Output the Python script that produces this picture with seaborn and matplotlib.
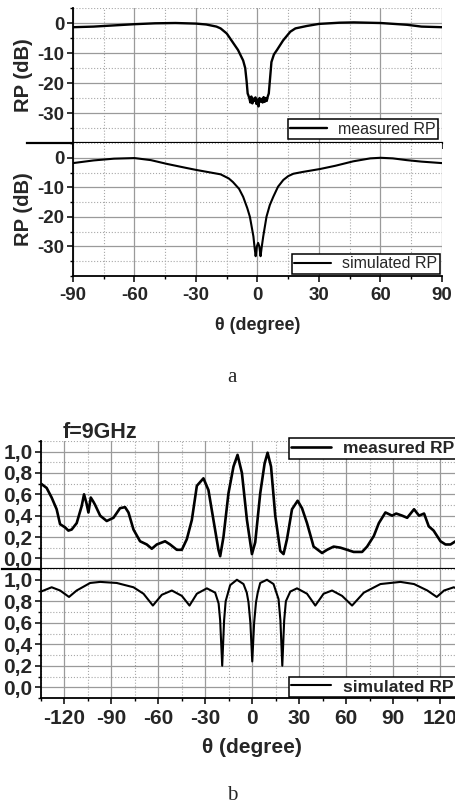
import numpy as np
import pandas as pd
import matplotlib
matplotlib.use('Agg')
import matplotlib.pyplot as plt
from matplotlib.ticker import MultipleLocator, FixedLocator
import seaborn as sns

# ---- data ----
# panel a : return-pattern in dB, theta -90..90
theta_a_meas = [-90, -80, -70, -60, -50, -40, -30, -25, -20, -18, -15, -12, -9.5, -7, -6, -5.3,
                -4.8, -4.5, -4.0, -3.5, -3.0, -2.5, -2.0, -1.5, -1.0, -0.5, 0.0, 0.5, 1.0, 1.5,
                2.0, 2.5, 3.0, 3.5, 4.0, 4.5, 5.0, 5.5, 6.0, 6.8, 8, 9.5, 12.5, 16, 18.5, 24, 30,
                40, 47, 60, 73, 80, 90]
rp_a_meas = [-1.4, -1.2, -0.8, -0.4, -0.1, 0.0, -0.2, -0.5, -1.2, -1.8, -3.5, -6.5, -9.0, -12.5,
             -15.0, -19.5, -23.5, -24.0, -25.0, -26.5, -24.5, -26.8, -25.2, -26.0, -24.8, -27.0,
             -25.5, -27.8, -25.0, -26.2, -25.3, -26.5, -24.7, -26.3, -25.0, -26.0, -24.5, -23.5,
             -19.5, -13.0, -10.5, -9.0, -5.8, -2.9, -1.8, -1.0, -0.3, 0.1, 0.2, 0.0, -0.6, -1.2,
             -1.4]

theta_a_sim = [-90, -80, -70, -60, -52, -44, -35, -30, -22, -18, -14, -12, -9, -7, -5, -3.7,
               -2.0, -1.4, -0.9, -0.3, 0.3, 0.9, 1.5, 2.0, 2.8, 4.4, 6, 7.7, 10, 12.6, 15,
               17.5, 22, 30.5, 38, 46.7, 55, 60, 66, 72.8, 80, 90]
rp_a_sim = [-1.8, -0.9, -0.3, -0.1, -0.8, -2.1, -3.4, -4.1, -5.1, -5.6, -7.0, -8.2, -10.5, -13.2,
            -17.0, -20.0, -26.6, -30.5, -33.3, -30.0, -28.8, -30.0, -33.3, -30.5, -26.6, -19.9,
            -16.0, -13.2, -9.8, -7.5, -6.2, -5.4, -4.8, -3.8, -2.7, -1.2, -0.2, 0.0, -0.2, -0.8,
            -1.3, -1.8]

# panel b : normalised RP at f = 9 GHz, theta -135..135
theta_b_meas = [-135, -131.4, -128.2, -125, -122.8, -119.6, -117.5, -115.4, -112.2, -109, -107.5,
                -106, -104.7, -103.2, -101.5, -100.4, -97.2, -93, -88.7, -84.5, -81.3, -79.1,
                -75.9, -71.7, -67.4, -64.2, -61, -55.7, -52.5, -48.2, -45, -41.8, -38.6, -35.4,
                -31.2, -28, -24.8, -21.6, -20.5, -18.4, -15.2, -12, -9.4, -6.6, -3.4, -0.2, 1.9,
                5.1, 7.9, 9.8, 12, 14.7, 17.9, 20, 22.2, 25.4, 29, 31.8, 35, 39.2, 44.6, 47.8, 52,
                56.3, 60.6, 64.8, 70.2, 73.4, 77.7, 80.9, 85.1, 89.4, 92, 95.8, 99, 103.4, 106.6,
                109.8, 112.8, 115.9, 120.3, 123.5, 126.7, 129.9, 135]
rp_b_meas = [0.70, 0.66, 0.57, 0.46, 0.32, 0.29, 0.26, 0.27, 0.33, 0.49, 0.60,
             0.52, 0.43, 0.57, 0.53, 0.50, 0.40, 0.35, 0.38, 0.47, 0.48, 0.43,
             0.27, 0.16, 0.13, 0.09, 0.13, 0.16, 0.13, 0.08, 0.08, 0.18, 0.36, 0.68,
             0.75, 0.64, 0.36, 0.08, 0.02, 0.20, 0.61, 0.86, 0.97, 0.80, 0.36, 0.04, 0.15,
             0.61, 0.89, 0.99, 0.86, 0.40, 0.07, 0.04, 0.18, 0.46, 0.54, 0.47, 0.33, 0.11, 0.05,
             0.08, 0.11, 0.10, 0.08, 0.06, 0.06, 0.11, 0.21, 0.33, 0.43, 0.40, 0.42, 0.40, 0.38,
             0.46, 0.40, 0.42, 0.30, 0.26, 0.16, 0.13, 0.13, 0.16, 0.18]

theta_b_sim = [-135, -128.2, -122.8, -117.1, -112.2, -103.6, -97.2, -86.6, -75.9, -69.5, -63.5,
               -57.8, -51.4, -45, -40.1, -35.4, -29, -23.7, -21.5, -20.5, -19.2, -18.0, -17.0,
               -14.1, -9.8, -5.6, -3.5, -2.4, -1.2, 0, 1.2, 2.4, 3.5, 5.1, 9.4, 13.6, 16.8, 18,
               19.2, 20.4, 21.5, 24.3, 28.6, 35, 40.3, 45.6, 51, 57.4, 63.8, 71.3, 81.9, 94.7,
               103.4, 111.9, 117.9, 122.6, 128.8, 135]
rp_b_sim = [0.89, 0.93, 0.90, 0.84, 0.90, 0.97, 0.98, 0.97, 0.93, 0.87, 0.76,
            0.86, 0.90, 0.85, 0.76, 0.87, 0.92, 0.88, 0.78, 0.62, 0.20, 0.62, 0.80,
            0.95, 1.00, 0.96, 0.88, 0.79, 0.60, 0.24, 0.60, 0.79, 0.88, 0.97, 1.00, 0.96, 0.82,
            0.62, 0.20, 0.62, 0.80, 0.89, 0.92, 0.87, 0.76, 0.87, 0.90, 0.85, 0.76, 0.88, 0.96,
            0.98, 0.96, 0.90, 0.84, 0.90, 0.93, 0.89]

b_yticks = [0.0, 0.2, 0.4, 0.6, 0.8, 1.0]
b_yticklabels = ['0,0', '0,2', '0,4', '0,6', '0,8', '1,0']

sns.set_style('white')
plt.rcParams['font.family'] = ['Liberation Sans', 'DejaVu Sans']
plt.rcParams['font.weight'] = 'bold'
plt.rcParams['axes.labelweight'] = 'bold'
plt.rcParams['axes.unicode_minus'] = False

fig = plt.figure(figsize=(4.56, 8.08), dpi=100)

W, H = 456.0, 808.0


def make_ax(l, t, r, b):
    return fig.add_axes([l / W, 1 - b / H, (r - l) / W, (b - t) / H])


ax1 = make_ax(73, 8, 442, 143)
ax2 = make_ax(73, 143, 442, 276)
ax3 = make_ax(41, 441, 463.5, 569)
ax4 = make_ax(41, 569, 463.5, 698)


def style(ax, xmaj, xmin, ymaj, ymin, fs):
    ax.xaxis.set_major_locator(MultipleLocator(xmaj))
    ax.xaxis.set_minor_locator(MultipleLocator(xmin))
    ax.yaxis.set_major_locator(MultipleLocator(ymaj))
    ax.yaxis.set_minor_locator(MultipleLocator(ymin))
    ax.grid(which='major', color='#9a9a9a', lw=0.9, ls='-')
    ax.grid(which='minor', color='#a8a8a8', lw=0.8, ls=':')
    ax.set_axisbelow(True)
    for s in ['top', 'right']:
        ax.spines[s].set_visible(False)
    for s in ['left', 'bottom']:
        ax.spines[s].set_color('black')
        ax.spines[s].set_linewidth(1.3)
    ax.tick_params(which='major', direction='out', length=4, width=1.1, color='black',
                   labelsize=fs, pad=2, left=True, bottom=True)
    ax.tick_params(which='minor', direction='out', length=2.5, width=1.0, color='black',
                   left=True, bottom=True)
    ax.tick_params(axis='x', which='major', pad=4)


def add_legend(ax, fs, weight, **kw):
    leg = ax.legend(frameon=True, fancybox=False, edgecolor='black', framealpha=1,
                    borderpad=0.15, handlelength=2.3, handletextpad=0.7,
                    prop={'size': fs, 'weight': weight}, **kw)
    leg.get_frame().set_linewidth(1.1)
    return leg


# panel a
sns.lineplot(x=theta_a_meas, y=rp_a_meas, ax=ax1, color='black', lw=1.7,
             label='measured RP', sort=False, estimator=None)
sns.lineplot(x=theta_a_sim, y=rp_a_sim, ax=ax2, color='black', lw=1.5,
             label='simulated RP', sort=False, estimator=None)
for ax in (ax1, ax2):
    ax.set_xlim(-90, 90)
    ax.set_ylim(-40, 5)
    style(ax, 30, 15, 10, 5, 13.5)
    ax.set_yticks([-30, -20, -10, 0])
    ax.set_ylabel('RP (dB)', fontsize=14.5, labelpad=3)
ax1.tick_params(labelbottom=False)
ax1.spines['bottom'].set_bounds(-112.5, 90)
ax1.spines['bottom'].set_linewidth(1.6)
ax2.set_xlabel('θ (degree)', fontsize=13, labelpad=9)
add_legend(ax1, 11.5, 'normal', loc='lower right', borderaxespad=0.25)
add_legend(ax2, 11.5, 'normal', loc='lower right', borderaxespad=0.15)

# panel b
sns.lineplot(x=theta_b_meas, y=rp_b_meas, ax=ax3, color='black', lw=1.9,
             label='measured RP', sort=False, estimator=None)
sns.lineplot(x=theta_b_sim, y=rp_b_sim, ax=ax4, color='black', lw=1.5,
             label='simulated RP', sort=False, estimator=None)
for ax in (ax3, ax4):
    ax.set_xlim(-135, 135)
    ax.set_ylim(-0.1, 1.1)
    style(ax, 30, 15, 0.2, 0.1, 15)
    ax.yaxis.set_major_locator(FixedLocator(b_yticks))
    ax.set_yticklabels(b_yticklabels)
    ax.set_xticks([-120, -90, -60, -30, 0, 30, 60, 90, 120])
    ax.set_ylabel('')
ax3.tick_params(labelbottom=False)
ax3.spines['bottom'].set_bounds(-160, 135)
ax3.spines['bottom'].set_linewidth(1.6)
ax4.set_xlabel('θ (degree)', fontsize=15, labelpad=7)
# legend boxes run to the right edge of the picture, as in the original
add_legend(ax3, 12.5, 'bold', loc='upper right', bbox_to_anchor=(0.985, 1.02), borderaxespad=0)
add_legend(ax4, 12.5, 'bold', loc='lower right', bbox_to_anchor=(0.985, 0.0), borderaxespad=0.05)

fig.text(100 / W, 1 - 432 / H, 'f=9GHz', fontsize=15.5, fontweight='bold',
         ha='center', va='center')
fig.text(232 / W, 1 - 378 / H, 'a', fontsize=15, family='Liberation Serif',
         fontweight='normal', ha='center', va='center')
fig.text(232 / W, 1 - 796 / H, 'b', fontsize=15, family='Liberation Serif',
         fontweight='normal', ha='center', va='center')

fig.savefig('out.png', dpi=100)
